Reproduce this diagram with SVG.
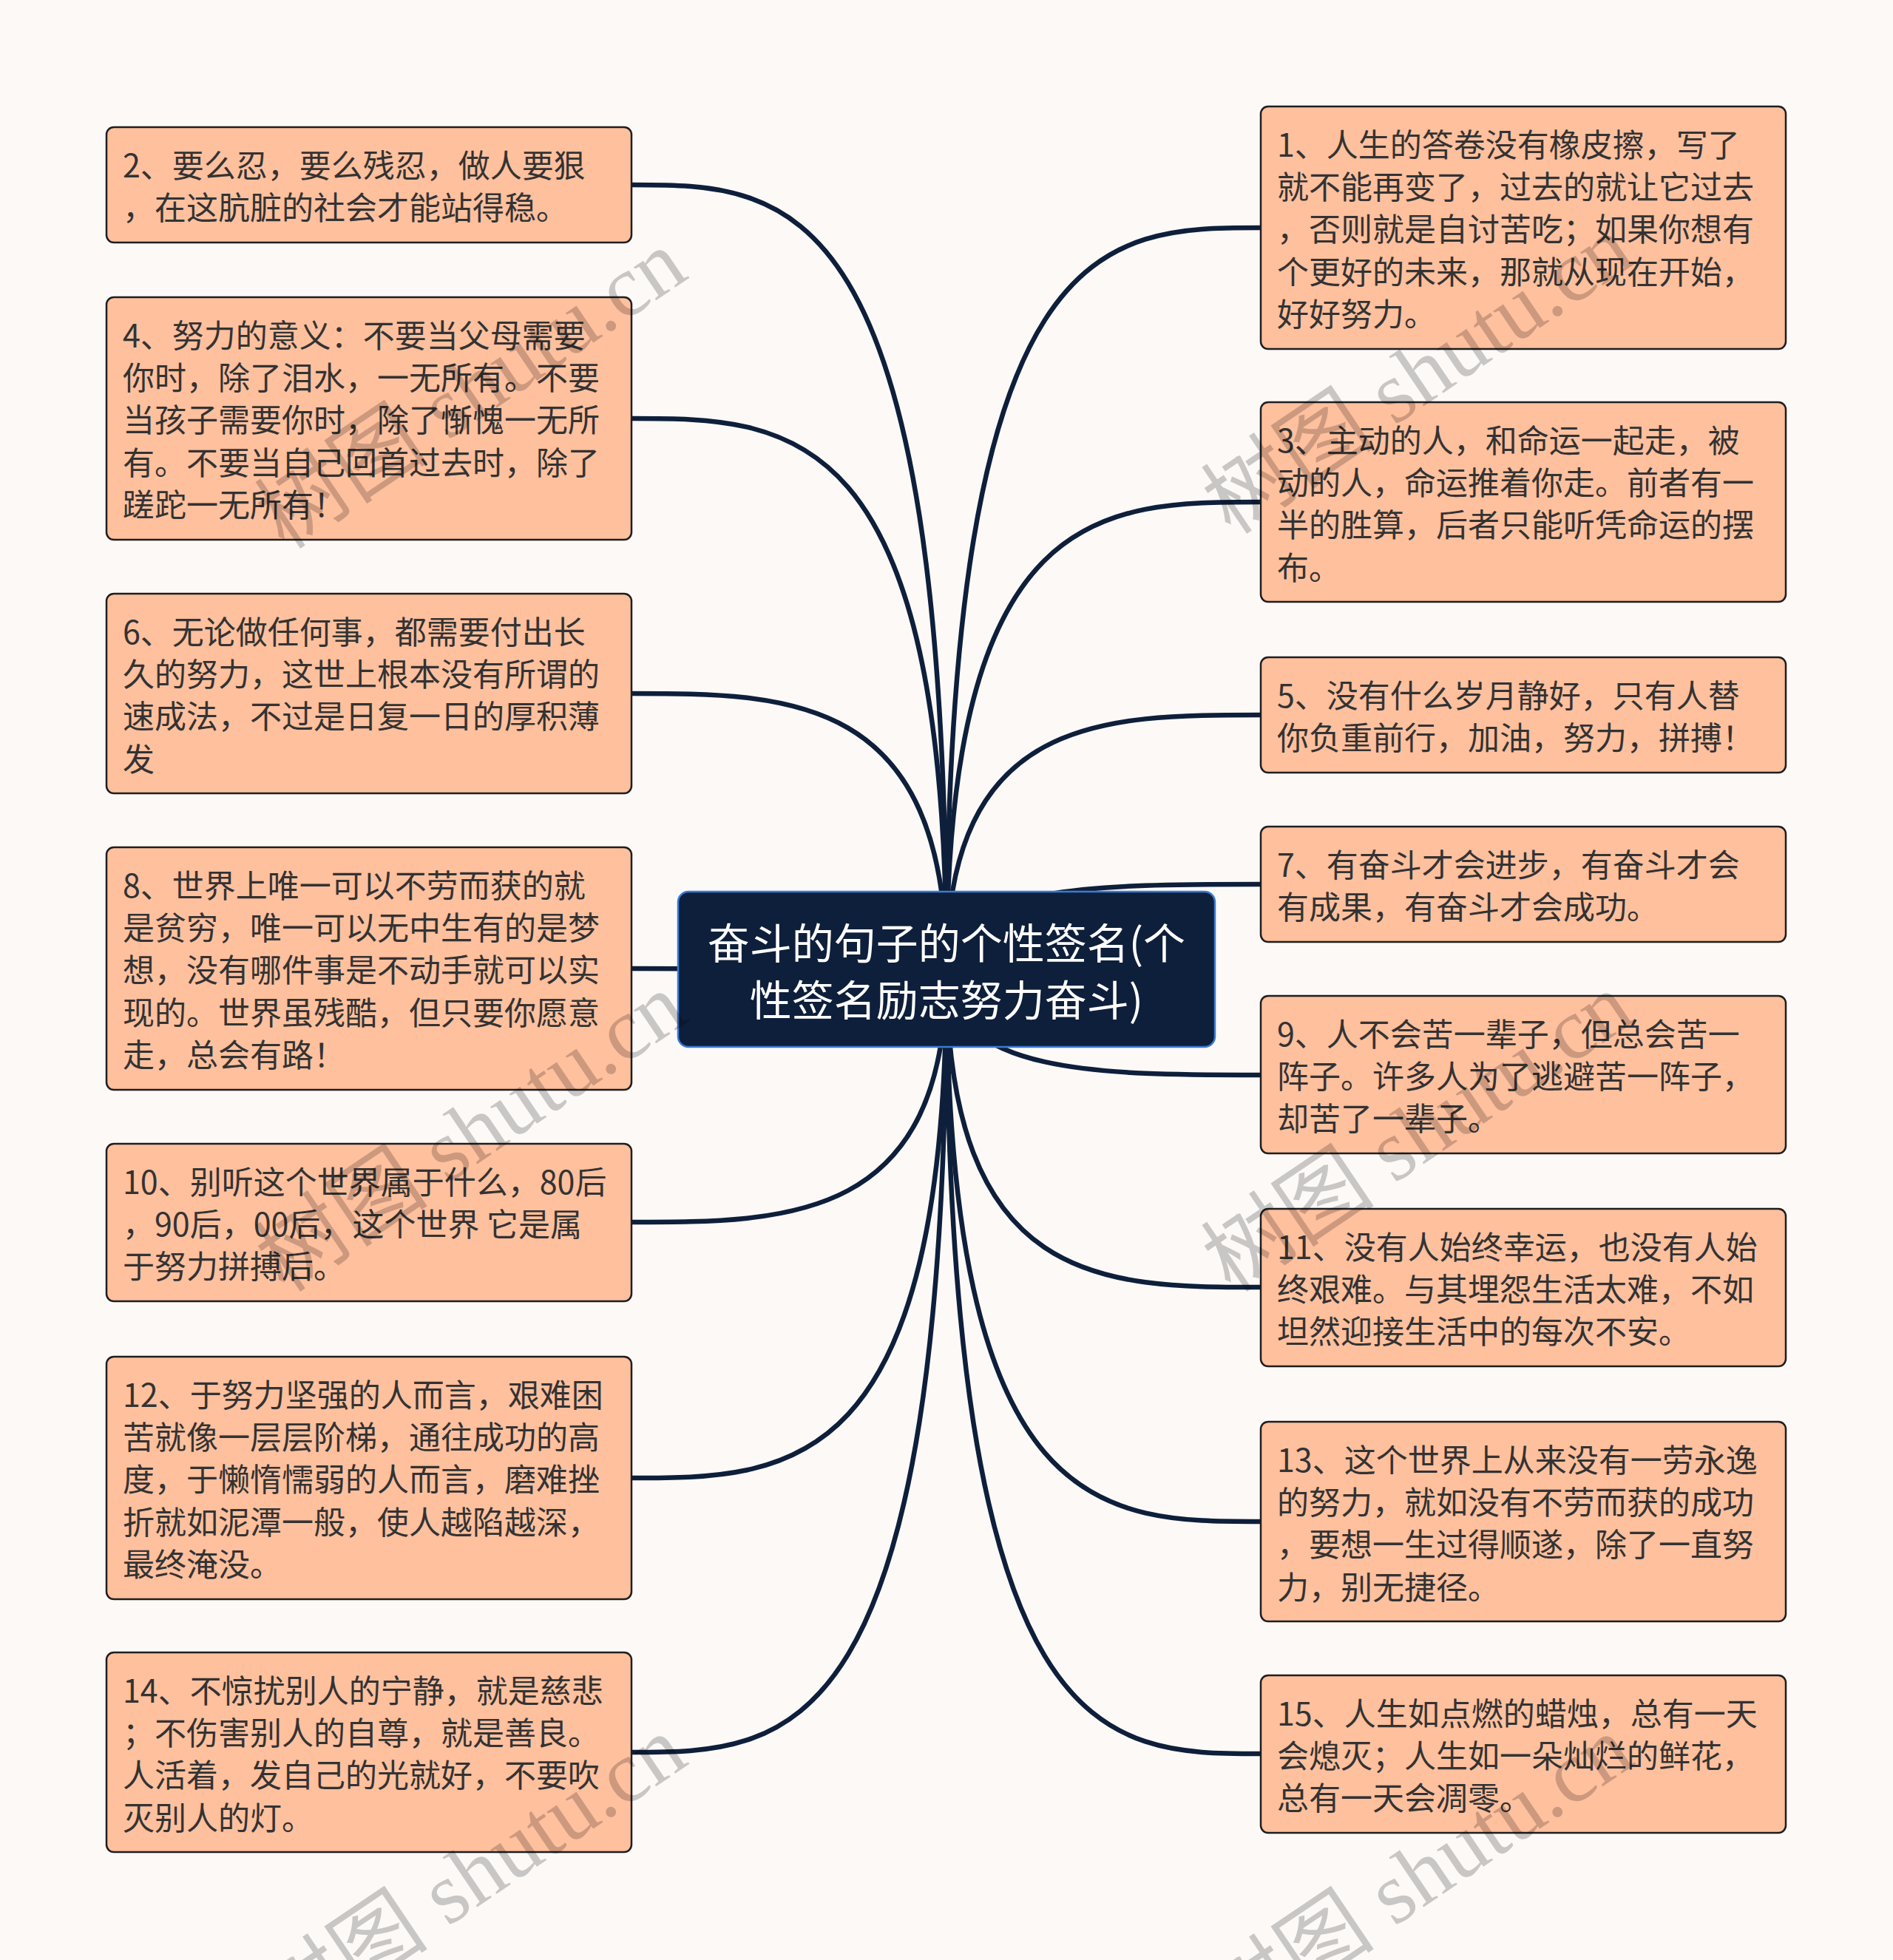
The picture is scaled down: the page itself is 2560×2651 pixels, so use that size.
<svg xmlns="http://www.w3.org/2000/svg" width="2560" height="2651" viewBox="0 0 2560 2651">
<style>
.bg{fill:#fcf9f7}
.node rect{fill:#ffc09e;stroke:#1e1e1e;stroke-width:2.5}
.node text{font-family:"Noto Sans CJK SC","Noto Sans",sans-serif;font-size:43px;fill:#333333;dominant-baseline:central}
.root rect{fill:#0e1f3b;stroke:#3a7bd5;stroke-width:2.5}
.root text{font-family:"Noto Sans CJK SC","Noto Sans",sans-serif;font-size:57px;fill:#ffffff;text-anchor:middle;dominant-baseline:central}
.edges path{fill:none;stroke:#0e1f3b;stroke-width:6.5;stroke-linecap:round}
.wm text{font-family:"Liberation Serif","Noto Sans CJK SC",serif;font-size:118px;fill:#000000;fill-opacity:0.2}
</style>
<rect class="bg" x="0" y="0" width="2560" height="2651"/>
<g class="edges" id="connectors">
<path d="M1280,1311 C1280,250 1067,250 854,250"/>
<path d="M1280,1311 C1280,566 1067,566 854,566"/>
<path d="M1280,1311 C1280,938 1067,938 854,938"/>
<path d="M1280,1311 C1280,1310 1067,1310 854,1310"/>
<path d="M1280,1311 C1280,1653 1067,1653 854,1653"/>
<path d="M1280,1311 C1280,1999 1067,1999 854,1999"/>
<path d="M1280,1311 C1280,2370 1067,2370 854,2370"/>
<path d="M1280,1311 C1280,308 1492,308 1705,308"/>
<path d="M1280,1311 C1280,679 1492,679 1705,679"/>
<path d="M1280,1311 C1280,967 1492,967 1705,967"/>
<path d="M1280,1311 C1280,1196 1492,1196 1705,1196"/>
<path d="M1280,1311 C1280,1454 1492,1454 1705,1454"/>
<path d="M1280,1311 C1280,1741 1492,1741 1705,1741"/>
<path d="M1280,1311 C1280,2058 1492,2058 1705,2058"/>
<path d="M1280,1311 C1280,2372 1492,2372 1705,2372"/>
</g>
<g class="root" id="root">
<rect x="917" y="1206" width="726" height="210" rx="14"/>
<text x="1280" y="1272">奋斗的句子的个性签名(个</text>
<text x="1280" y="1349">性签名励志努力奋斗)</text>
</g>
<g class="node" id="n2">
<rect x="144" y="172" width="710" height="156" rx="10"/>
<text x="166" y="221">2、要么忍，要么残忍，做人要狠</text>
<text x="166" y="278">，在这肮脏的社会才能站得稳。</text>
</g>
<g class="node" id="n4">
<rect x="144" y="402" width="710" height="328" rx="10"/>
<text x="166" y="451">4、努力的意义：不要当父母需要</text>
<text x="166" y="508">你时，除了泪水，一无所有。不要</text>
<text x="166" y="565">当孩子需要你时，除了惭愧一无所</text>
<text x="166" y="623">有。不要当自己回首过去时，除了</text>
<text x="166" y="680">蹉跎一无所有！</text>
</g>
<g class="node" id="n6">
<rect x="144" y="803" width="710" height="270" rx="10"/>
<text x="166" y="852">6、无论做任何事，都需要付出长</text>
<text x="166" y="909">久的努力，这世上根本没有所谓的</text>
<text x="166" y="966">速成法，不过是日复一日的厚积薄</text>
<text x="166" y="1024">发</text>
</g>
<g class="node" id="n8">
<rect x="144" y="1146" width="710" height="328" rx="10"/>
<text x="166" y="1195">8、世界上唯一可以不劳而获的就</text>
<text x="166" y="1252">是贫穷，唯一可以无中生有的是梦</text>
<text x="166" y="1309">想，没有哪件事是不动手就可以实</text>
<text x="166" y="1367">现的。世界虽残酷，但只要你愿意</text>
<text x="166" y="1424">走，总会有路！</text>
</g>
<g class="node" id="n10">
<rect x="144" y="1547" width="710" height="213" rx="10"/>
<text x="166" y="1596">10、别听这个世界属于什么，80后</text>
<text x="166" y="1653">，90后，00后，这个世界 它是属</text>
<text x="166" y="1710">于努力拼搏后。</text>
</g>
<g class="node" id="n12">
<rect x="144" y="1835" width="710" height="328" rx="10"/>
<text x="166" y="1884">12、于努力坚强的人而言，艰难困</text>
<text x="166" y="1941">苦就像一层层阶梯，通往成功的高</text>
<text x="166" y="1998">度，于懒惰懦弱的人而言，磨难挫</text>
<text x="166" y="2056">折就如泥潭一般，使人越陷越深，</text>
<text x="166" y="2113">最终淹没。</text>
</g>
<g class="node" id="n14">
<rect x="144" y="2235" width="710" height="270" rx="10"/>
<text x="166" y="2284">14、不惊扰别人的宁静，就是慈悲</text>
<text x="166" y="2341">；不伤害别人的自尊，就是善良。</text>
<text x="166" y="2398">人活着，发自己的光就好，不要吹</text>
<text x="166" y="2456">灭别人的灯。</text>
</g>
<g class="node" id="n1">
<rect x="1705" y="144" width="710" height="328" rx="10"/>
<text x="1727" y="193">1、人生的答卷没有橡皮擦，写了</text>
<text x="1727" y="250">就不能再变了，过去的就让它过去</text>
<text x="1727" y="307">，否则就是自讨苦吃；如果你想有</text>
<text x="1727" y="365">个更好的未来，那就从现在开始，</text>
<text x="1727" y="422">好好努力。</text>
</g>
<g class="node" id="n3">
<rect x="1705" y="544" width="710" height="270" rx="10"/>
<text x="1727" y="593">3、主动的人，和命运一起走，被</text>
<text x="1727" y="650">动的人，命运推着你走。前者有一</text>
<text x="1727" y="707">半的胜算，后者只能听凭命运的摆</text>
<text x="1727" y="765">布。</text>
</g>
<g class="node" id="n5">
<rect x="1705" y="889" width="710" height="156" rx="10"/>
<text x="1727" y="938">5、没有什么岁月静好，只有人替</text>
<text x="1727" y="995">你负重前行，加油，努力，拼搏！</text>
</g>
<g class="node" id="n7">
<rect x="1705" y="1118" width="710" height="156" rx="10"/>
<text x="1727" y="1167">7、有奋斗才会进步，有奋斗才会</text>
<text x="1727" y="1224">有成果，有奋斗才会成功。</text>
</g>
<g class="node" id="n9">
<rect x="1705" y="1347" width="710" height="213" rx="10"/>
<text x="1727" y="1396">9、人不会苦一辈子，但总会苦一</text>
<text x="1727" y="1453">阵子。许多人为了逃避苦一阵子，</text>
<text x="1727" y="1510">却苦了一辈子。</text>
</g>
<g class="node" id="n11">
<rect x="1705" y="1635" width="710" height="213" rx="10"/>
<text x="1727" y="1684">11、没有人始终幸运，也没有人始</text>
<text x="1727" y="1741">终艰难。与其埋怨生活太难，不如</text>
<text x="1727" y="1798">坦然迎接生活中的每次不安。</text>
</g>
<g class="node" id="n13">
<rect x="1705" y="1923" width="710" height="270" rx="10"/>
<text x="1727" y="1972">13、这个世界上从来没有一劳永逸</text>
<text x="1727" y="2029">的努力，就如没有不劳而获的成功</text>
<text x="1727" y="2086">，要想一生过得顺遂，除了一直努</text>
<text x="1727" y="2144">力，别无捷径。</text>
</g>
<g class="node" id="n15">
<rect x="1705" y="2266" width="710" height="213" rx="10"/>
<text x="1727" y="2315">15、人生如点燃的蜡烛，总有一天</text>
<text x="1727" y="2372">会熄灭；人生如一朵灿烂的鲜花，</text>
<text x="1727" y="2429">总有一天会凋零。</text>
</g>
<g class="wm" id="watermark">
<text transform="translate(385,745) rotate(-34)">树图 shutu.cn</text>
<text transform="translate(1665,725) rotate(-34)">树图 shutu.cn</text>
<text transform="translate(385,1750) rotate(-34)">树图 shutu.cn</text>
<text transform="translate(1665,1750) rotate(-34)">树图 shutu.cn</text>
<text transform="translate(385,2755) rotate(-34)">树图 shutu.cn</text>
<text transform="translate(1665,2755) rotate(-34)">树图 shutu.cn</text>
</g>
</svg>
